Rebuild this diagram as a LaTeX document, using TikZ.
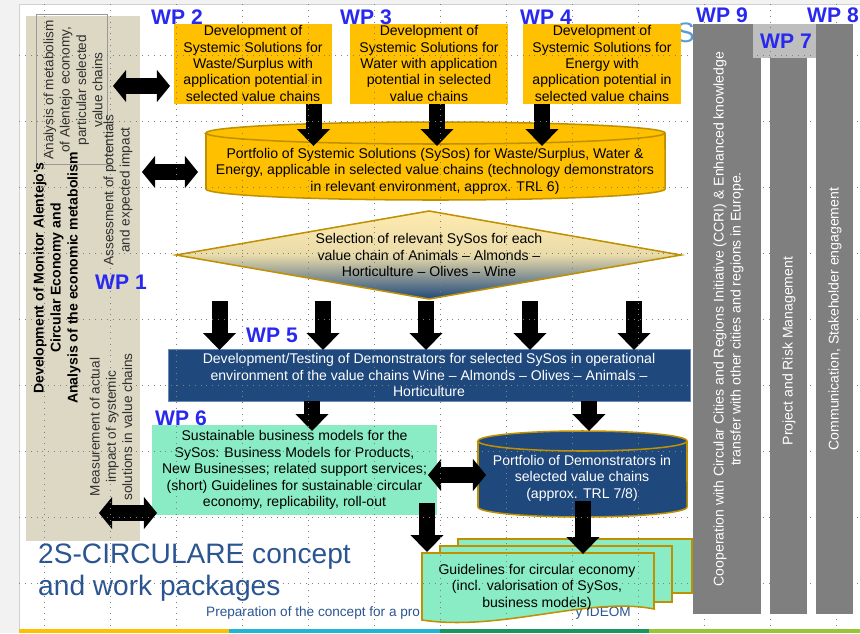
\documentclass[tikz,border=0pt]{standalone}
\usepackage{fontspec}
\setmainfont{Liberation Sans}
\usetikzlibrary{arrows.meta}
\definecolor{solyellow}{HTML}{FFC000}
\definecolor{goldline}{HTML}{BF9000}
\definecolor{demoblue}{HTML}{1F487C}
\definecolor{demoedge}{HTML}{6A8AB5}
\definecolor{mint}{HTML}{89ECC5}
\definecolor{panelbeige}{HTML}{DCD8C4}
\definecolor{wpblue}{HTML}{2828F0}
\definecolor{titleblue}{HTML}{2A5591}
\definecolor{colgray}{HTML}{7F7F7F}
\definecolor{patchgray}{HTML}{BEBEBE}
\definecolor{skyblue}{HTML}{5B9BD5}
\definecolor{paleyellow}{HTML}{FFEBAF}
\definecolor{sidegray}{HTML}{2E2E2E}
\definecolor{stripcyan}{HTML}{1FB5D3}
\definecolor{stripgreen}{HTML}{17975F}
\definecolor{striplime}{HTML}{97C534}
\newcommand\fsz[2]{\fontsize{#1}{#2}\selectfont}
\tikzset{
  wplabel/.style={text=wpblue, font=\fsz{18}{20}\bfseries, inner sep=0pt},
  bodytext/.style={align=center, font=\fsz{12}{14}, inner sep=0pt},
  solbox/.style={bodytext, fill=solyellow, minimum width=4.74cm, minimum height=2.4cm},
  sidetext/.style={rotate=90, align=center, font=\fsz{11.6}{13.9}, text=sidegray, inner sep=0pt},
  coltext/.style={rotate=90, align=center, font=\fsz{12}{14.5}, text=white, inner sep=0pt},
  outline/.style={draw=goldline, line width=1.3pt},
  sheet/.style={fill=mint, outline},
  downarrow/.style={line width=13.66pt, -{Triangle[width=28.2pt,length=14.5pt,line width=0pt]}},
  bothways/.style={line width=13.66pt, {Triangle[width=27.3pt,length=11.1pt,line width=0pt]}-{Triangle[width=27.3pt,length=11.1pt,line width=0pt]}},
  griddot/.style={black!50, line width=0.6pt, dash pattern=on 0.6pt off 4.4pt},
}
\begin{document}
\begin{tikzpicture}[x=0.03cm, y=0.03cm]
\useasboundingbox (0,0) rectangle (860,-633);
\fill[black!5] (0,0) rectangle (860,-633);
\fill[white] (19,-4) rectangle (860,-633);
\draw[black!18] (19,-633) -- (19,-4) -- (860,-4);
\fill[solyellow] (19,-629) rectangle (229,-633);
\fill[stripcyan] (229,-629) rectangle (440,-633);
\fill[stripgreen] (440,-629) rectangle (649,-633);
\fill[striplime] (649,-629) rectangle (860,-633);

\fill[panelbeige] (26,-16) rectangle (140,-541);
\draw[black!40, line width=0.6pt] (36,-14) rectangle (107,-164);
\node[sidetext] (metab) at (73,-90) {Analysis of metabolism\\of Alentejo economy,\\particular selected\\value chains};
\node[sidetext] (assess) at (118,-190) {Assessment of potentials\\and expected impact};
\node[rotate=90, align=center, font=\fsz{12}{14.5}\bfseries, inner sep=0pt] (monitor) at (57,-278) {Development of Monitor Alentejo's\\Circular Economy and\\Analysis of the economic metabolism};
\node[sidetext] (measure) at (111,-427) {Measurement of actual\\impact of systemic\\solutions in value chains};
\node[wplabel] (wp1) at (121,-282) {WP 1};

\node[anchor=base west, align=left, font=\fsz{24}{27.3}, text=titleblue, inner sep=0pt] (title) at (38,-595) {2S-CIRCULARE concept\\and work packages};
\node[anchor=base west, font=\fsz{11.6}{13}, text=titleblue, inner sep=0pt] (prep) at (206,-616) {Preparation of the concept for a pro};
\node[anchor=base east, font=\fsz{11.6}{13}, text=titleblue, inner sep=0pt] (ideom) at (631,-616) {y IDEOM};

\node[anchor=base west, font=\fsz{24}{24}, text=skyblue, inner sep=0pt] (frag) at (676,-42) {S};
\fill[colgray] (693,-24) rectangle (761,-614);
\fill[colgray] (770,-24) rectangle (807,-614);
\fill[patchgray] (753,-24) rectangle (820,-58);
\fill[colgray] (816,-24) rectangle (853,-614);
\node[coltext] (ccri) at (728.5,-319) {Cooperation with Circular Cities and Regions Initiative (CCRI) \& Enhanced knowledge\\transfer with other cities and regions in Europe.};
\node[coltext] (risk) at (789,-351) {Project and Risk Management};
\node[coltext] (comm) at (835,-319) {Communication, Stakeholder engagement};
\node[wplabel] (wp9) at (722,-15) {WP 9};
\node[wplabel] (wp7) at (786,-41) {WP 7};
\node[wplabel] (wp8) at (833,-15) {WP 8};

\node[solbox] (wp2box) at (253,-63.5) {Development of\\Systemic Solutions for\\Waste/Surplus with\\application potential in\\selected value chains};
\node[solbox] (wp3box) at (429,-63.5) {Development of\\Systemic Solutions for\\Water with application\\potential in selected\\value chains};
\node[solbox] (wp4box) at (602,-63.5) {Development of\\Systemic Solutions for\\Energy with\\application potential in\\selected value chains};
\node[wplabel] (wp2) at (177,-17) {WP 2};
\node[wplabel] (wp3) at (366,-17) {WP 3};
\node[wplabel] (wp4) at (546,-17) {WP 4};

\path[fill=solyellow, outline] (206,-133) -- (206,-189) arc[start angle=180, end angle=360, x radius=6.885cm, y radius=0.33cm] -- (665,-133) arc[start angle=0, end angle=180, x radius=6.885cm, y radius=0.33cm] -- cycle;
\draw[outline] (206,-133) arc[start angle=180, end angle=360, x radius=6.885cm, y radius=0.33cm];
\node[bodytext] (portfolio) at (435,-171) {Portfolio of Systemic Solutions (SySos) for Waste/Surplus, Water \&\\Energy, applicable in selected value chains (technology demonstrators\\in relevant environment, approx. TRL 6)};
\foreach \src/\x [count=\i] in {wp2box/313.5,wp3box/437,wp4box/542}{
  \coordinate (intop\i) at (\x,-146);
  \draw[downarrow] (\src.south -| intop\i) -- (intop\i);
}

\path[outline, top color=paleyellow, bottom color=demoblue, middle color=paleyellow!90!demoblue] (429,-211) -- (681,-255) -- (429,-299) -- (176,-255) -- cycle;
\node[bodytext] (select) at (429,-255) {Selection of relevant SySos for each\\value chain of Animals -- Almonds --\\Horticulture -- Olives -- Wine};

\node[bodytext, fill=demoblue, draw=demoedge, line width=0.8pt, text=white, minimum width=15.66cm, minimum height=1.56cm] (wp5) at (429,-375) {Development/Testing of Demonstrators for selected SySos in operational\\environment of the value chains Wine -- Almonds -- Olives -- Animals --\\Horticulture};
\foreach \x [count=\i] in {219.5,323,426,530,634}{
  \coordinate (pick\i) at (\x,-301);
  \coordinate (test\i) at (\x,-350);
  \draw[downarrow] (pick\i) -- (test\i);
}
\node[wplabel] (wp5lbl) at (272,-335) {WP 5};

\node[bodytext, fill=mint, minimum width=8.55cm, minimum height=2.7cm] (wp6) at (294.5,-470) {Sustainable business models for the\\SySos: Business Models for Products,\\New Businesses; related support services;\\(short) Guidelines for sustainable circular\\economy, replicability, roll-out};
\node[wplabel] (wp6lbl) at (181,-418) {WP 6};
\path[fill=demoblue, outline] (478,-441) -- (478,-507) arc[start angle=180, end angle=360, x radius=3.135cm, y radius=0.3cm] -- (687,-441) arc[start angle=0, end angle=180, x radius=3.135cm, y radius=0.3cm] -- cycle;
\draw[outline] (478,-441) arc[start angle=180, end angle=360, x radius=3.135cm, y radius=0.3cm];
\node[bodytext, text=white] (demo) at (582,-478) {Portfolio of Demonstrators in\\selected value chains\\(approx. TRL 7/8)};
\coordinate (intest1) at (312,-431);
\coordinate (intest2) at (589,-431);
\draw[downarrow] (wp5.south -| intest1) -- (intest1);
\draw[downarrow] (wp5.south -| intest2) -- (intest2);

\path[sheet] (458,-539) rectangle (692,-593);
\path[sheet] (440,-546) rectangle (672,-602);
\path[sheet] (422,-553) -- (654,-553) -- (654,-609) .. controls (590,-596) and (500,-632) .. (422,-620) -- cycle;
\node[bodytext] (guide) at (537,-587) {Guidelines for circular economy\\(incl. valorisation of SySos,\\business models)};
\coordinate (inguide1) at (427,-552);
\coordinate (inguide2) at (583,-554);
\draw[downarrow] ([yshift=0.36cm]wp6.south -| inguide1) -- (inguide1);
\draw[downarrow] (demo.south -| inguide2) -- (inguide2);

\coordinate (dl1) at (113,-86);
\coordinate (dr1) at (170,-86);
\coordinate (dl2) at (142,-172);
\coordinate (dr2) at (198,-172);
\coordinate (dl3) at (99,-513);
\coordinate (dr3) at (157,-513);
\coordinate (dl4) at (428,-475);
\coordinate (dr4) at (486,-475);
\foreach \i in {1,...,4} \draw[bothways] (dl\i) -- (dr\i);

\foreach \x in {44,110,...,836} \draw[griddot] (\x,-4) -- (\x,-629);
\foreach \y in {55,121,...,583} \draw[griddot] (19,-\y) -- (860,-\y);
\end{tikzpicture}
\end{document}
